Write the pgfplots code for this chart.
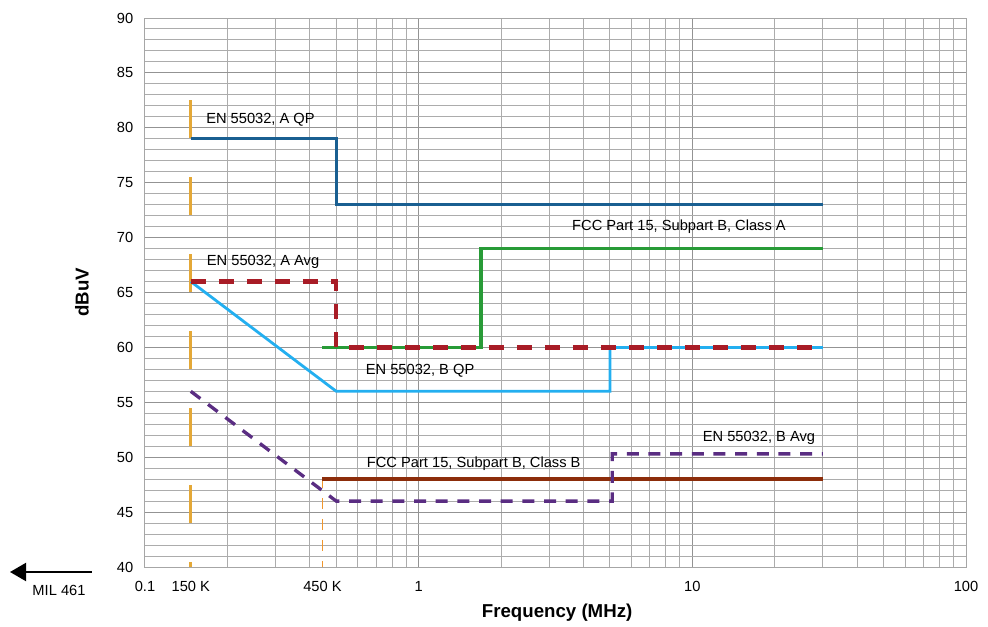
\documentclass[border=0pt]{standalone}
\usepackage{fontspec}
\setmainfont{Liberation Sans}
\usepackage{pgfplots}
\pgfplotsset{compat=1.18}
\usetikzlibrary{arrows.meta}
\definecolor{aqp}{RGB}{25,95,145}
\definecolor{aavg}{RGB}{168,28,38}
\definecolor{bqp}{RGB}{35,175,240}
\definecolor{fcca}{RGB}{40,155,55}
\definecolor{fccb}{RGB}{140,45,10}
\definecolor{bavg}{RGB}{90,45,130}
\definecolor{ofir}{RGB}{228,168,55}
\definecolor{osec}{RGB}{240,150,45}
\newcommand{\lbl}{\fontsize{11}{13}\selectfont}
\begin{document}
\begin{tikzpicture}
\useasboundingbox (-108.75pt,-44.25pt) rectangle (632.25pt,425.25pt);
\begin{axis}[
  xmode=log, scale only axis, width=615.75pt, height=411.75pt,
  xmin=0.1, xmax=100, ymin=40, ymax=90,
  clip=false,
  xtick={0.1,1,10,100}, xticklabels={0.1,1,10,100},
  extra x ticks={0.147,0.445}, extra x tick labels={150 K,450 K},
  extra x tick style={grid=none},
  minor xtick={0.2,0.3,0.4,0.5,0.6,0.7,0.8,0.9,2,3,4,5,6,7,8,9,20,30,40,50,60,70,80,90},
  ytick={40,45,...,90}, minor y tick num=4,
  grid=both,
  major grid style={draw=gray!85, line width=0.75pt},
  minor grid style={draw=gray!65, line width=0.75pt},
  tick style={draw=none},
  axis line style={draw=gray!70, line width=0.75pt},
  /pgf/number format/assume math mode=true,
  xticklabel style={font=\lbl, yshift=-7.5pt},
  yticklabel style={font=\lbl, xshift=-5.3pt},
  xlabel={Frequency (MHz)}, ylabel={dBuV},
  xlabel style={font=\bfseries\fontsize{14}{16}\selectfont, at={(axis description cs:0.502,-0.0838)}, anchor=center},
  ylabel style={font=\bfseries\fontsize{14}{16}\selectfont, at={(axis description cs:-0.0767,0.5)}, anchor=center},
]
% reference markers
\addplot[ofir, line width=2.2pt, dash pattern=on 28.5pt off 29.25pt] coordinates {(0.147,82.5) (0.147,40)};
\addplot[osec, line width=1.1pt, dash pattern=on 8.25pt off 7.5pt] coordinates {(0.445,48.2) (0.445,40)};
% limits
\addplot[aqp, line width=2.4pt] coordinates {(0.147,79) (0.5,79) (0.5,73) (30,73)};
\addplot[fcca, line width=2.6pt] coordinates {(0.445,60) (1.69,60) (1.69,69) (30,69)};
\addplot[bqp, line width=2.1pt] coordinates {(0.147,66) (0.5,56) (5,56) (5,60) (30,60)};
\addplot[fccb, line width=2.8pt] coordinates {(0.445,48) (30,48)};
\addplot[bavg, line width=2.5pt, dash pattern=on 9pt off 7.25pt] coordinates {(0.147,56) (0.5,46) (5.1,46) (5.1,50.3) (30,50.3)};
\addplot[aavg, line width=3.3pt, dash pattern=on 11.25pt off 9.75pt] coordinates {(0.147,66) (0.5,66) (0.5,60) (30,60)};
% labels
\node[font=\lbl, anchor=base west, inner sep=0] at (axis cs:0.1671,80.35) {EN 55032, A QP};
\node[font=\lbl, anchor=base west, inner sep=0] at (axis cs:0.168,67.5) {EN 55032, A Avg};
\node[font=\lbl, anchor=base west, inner sep=0] at (axis cs:0.640,57.55) {EN 55032, B QP};
\node[font=\lbl, anchor=base west, inner sep=0] at (axis cs:0.6457,49.04) {FCC Part 15, Subpart B, Class B};
\node[font=\lbl, anchor=base west, inner sep=0] at (axis cs:3.632,70.63) {FCC Part 15, Subpart B, Class A};
\node[font=\lbl, anchor=base west, inner sep=0] at (axis cs:10.9,51.45) {EN 55032, B Avg};
\draw[-{Triangle[length=12pt,width=13.5pt]}, line width=1.5pt] (axis cs:0.06402,39.545) -- (axis cs:0.03212,39.545);
\node[font=\lbl, anchor=base, inner sep=0] at (axis cs:0.0485,37.4) {MIL 461};
\end{axis}
\end{tikzpicture}
\end{document}
